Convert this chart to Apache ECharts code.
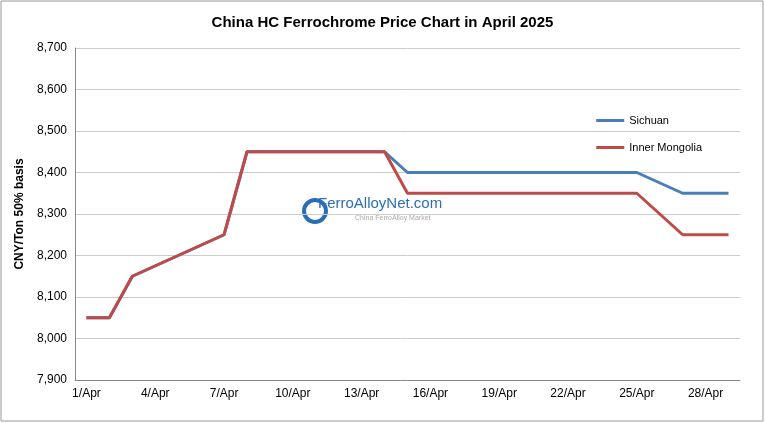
<!DOCTYPE html>
<html><head><meta charset="utf-8">
<script src="https://cdn.jsdelivr.net/npm/echarts@6/dist/echarts.min.js"></script>
<style>html,body{margin:0;padding:0;background:#fff}#c{width:765px;height:423px}</style>
</head><body><div id="c"></div>
<script>
const categories = ['1/Apr','2/Apr','3/Apr','4/Apr','5/Apr','6/Apr','7/Apr','8/Apr','9/Apr','10/Apr','11/Apr','12/Apr','13/Apr','14/Apr','15/Apr','16/Apr','17/Apr','18/Apr','19/Apr','20/Apr','21/Apr','22/Apr','23/Apr','24/Apr','25/Apr','26/Apr','27/Apr','28/Apr','29/Apr'];
const sichuan = [8050,8050,8150,null,null,null,8250,8450,8450,8450,8450,null,null,8450,8400,8400,8400,8400,null,null,8400,8400,8400,8400,8400,null,8350,8350,8350];
const innerMongolia = [8050,8050,8150,null,null,null,8250,8450,8450,8450,8450,null,null,8450,8350,8350,8350,8350,null,null,8350,8350,8350,8350,8350,null,8250,8250,8250];
const chart = echarts.init(document.getElementById('c'));
chart.setOption({
  animation:false,
  textStyle:{fontFamily:'Liberation Sans, Arial'},
  title:{text:'China HC Ferrochrome Price Chart in April 2025',left:'center',top:10,textStyle:{fontSize:15,fontWeight:'bold',color:'#000',fontFamily:'Liberation Sans'}},
  grid:{left:75,right:25,top:48,bottom:43},
  legend:{orient:'vertical',right:58,top:110,itemGap:16,itemWidth:28,itemHeight:3,icon:'rect',
    textStyle:{fontSize:11,color:'#000'},data:['Sichuan','Inner Mongolia']},
  xAxis:{type:'category',data:categories,boundaryGap:true,
    axisLine:{lineStyle:{color:'#888'}},axisTick:{show:false},
    axisLabel:{interval:2,color:'#000',fontSize:12}},
  yAxis:{type:'value',min:7900,max:8700,interval:100,
    name:'CNY/Ton 50% basis',nameLocation:'middle',nameGap:48,nameTextStyle:{fontSize:12,fontWeight:'bold',color:'#000'},
    axisLine:{show:true,lineStyle:{color:'#888'}},axisLabel:{color:'#000',fontSize:12},
    splitLine:{lineStyle:{color:'#ccc'}}},
  graphic:[
    {type:'rect',shape:{x:1,y:1,width:762,height:420},style:{fill:'none',stroke:'#999',lineWidth:1}},
    {type:'text',left:318,top:196,style:{text:'FerroAlloyNet.com',fontSize:15,fill:'#2a6fb5',fontFamily:'Liberation Sans'}},
    {type:'text',left:355,top:215,style:{text:'China FerroAlloy Market',fontSize:7,fill:'#aaa'}},
    {type:'circle',shape:{cx:315,cy:211,r:11},style:{fill:'none',stroke:'#2a6fb5',lineWidth:4}}
  ],
  series:[
    {name:'Sichuan',type:'line',data:sichuan,connectNulls:true,symbol:'none',lineStyle:{width:3,color:'#4a7ebb'},itemStyle:{color:'#4a7ebb'},z:2},
    {name:'Inner Mongolia',type:'line',data:innerMongolia,connectNulls:true,symbol:'none',lineStyle:{width:3,color:'#be4b48'},itemStyle:{color:'#be4b48'},z:3}
  ]
});
</script></body></html>
